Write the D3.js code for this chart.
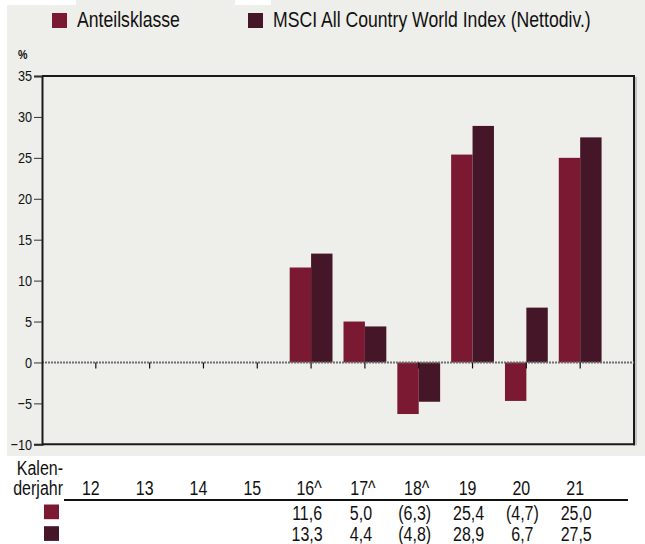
<!DOCTYPE html>
<html>
<head>
<meta charset="utf-8">
<script src="https://cdn.jsdelivr.net/npm/d3@7"></script>
<style>
  html, body { margin: 0; padding: 0; background: #ffffff; }
  svg { display: block; }
  text { font-family: 'Liberation Sans', Arial, sans-serif; fill: #111; }
</style>
</head>
<body>
<script>
// ---- data ----
const years = ["12", "13", "14", "15", "16", "17", "18", "19", "20", "21"];
const yearLabels = ["12", "13", "14", "15", "16^", "17^", "18^", "19", "20", "21"];
const seriesNames = ["Anteilsklasse", "MSCI All Country World Index (Nettodiv.)"];
const fundValues = [null, null, null, null, 11.6, 5.0, -6.3, 25.4, -4.7, 25.0];
const indexValues = [null, null, null, null, 13.3, 4.4, -4.8, 28.9, 6.7, 27.5];
const yTicks = [-10, -5, 0, 5, 10, 15, 20, 25, 30, 35];
const colors = ["#7b1832", "#441628"];

(function () {
const W = 645, H = 544;
const pL = 42, pR = 634, pT = 76, pB = 444.3;
const SX = 0.82; // horizontal condensing for a narrow typeface look

const svg = d3.select("body").append("svg").attr("width", W).attr("height", H);

// background
svg.append("rect").attr("x", 7).attr("y", 0).attr("width", W - 7).attr("height", 456).attr("fill", "#eeeeea");
svg.append("rect").attr("x", 0).attr("y", 0).attr("width", 76).attr("height", 5).attr("fill", "#fff");
svg.append("rect").attr("x", 235).attr("y", 0).attr("width", 36).attr("height", 5).attr("fill", "#fff");

const x = d3.scalePoint().domain(years).range([pL, pR]).padding(1);
const y = d3.scaleLinear().domain([-10, 35]).range([pB, pT]);
const barW = 21.4;

// plot frame (top, right, bottom)
const frame = svg.append("g");
frame.append("line").attr("x1", pL).attr("x2", pR + 1).attr("y1", pT).attr("y2", pT)
  .attr("stroke", "#1a1a1a").attr("stroke-width", 2);
frame.append("line").attr("x1", pR + 2).attr("x2", pR + 2).attr("y1", pT + 1).attr("y2", pB + 1)
  .attr("stroke", "#9a9a9a").attr("stroke-width", 1);
frame.append("line").attr("x1", pR).attr("x2", pR).attr("y1", pT - 1).attr("y2", pB + 1)
  .attr("stroke", "#1a1a1a").attr("stroke-width", 2);
frame.append("line").attr("x1", pL).attr("x2", pR + 1).attr("y1", pB).attr("y2", pB)
  .attr("stroke", "#1a1a1a").attr("stroke-width", 2);

// bars
const data = years.map((yr, i) => ({ yr, vals: [fundValues[i], indexValues[i]] }));
const g = svg.append("g");
data.forEach(d => {
  d.vals.forEach((v, k) => {
    if (v === null) return;
    const x0 = x(d.yr) - barW + k * barW;
    g.append("rect")
      .attr("x", x0)
      .attr("width", barW)
      .attr("y", y(Math.max(0, v)))
      .attr("height", Math.abs(y(v) - y(0)))
      .attr("fill", colors[k]);
  });
});

// zero line dotted
svg.append("line").attr("x1", pL).attr("x2", pR).attr("y1", y(0)).attr("y2", y(0))
  .attr("stroke", "#6e6e6e").attr("stroke-width", 2).attr("stroke-dasharray", "2,1");

// category ticks on zero line
svg.append("g").selectAll("line").data(years).join("line")
  .attr("x1", d => x(d)).attr("x2", d => x(d))
  .attr("y1", y(0)).attr("y2", y(0) + 6)
  .attr("stroke", "#111").attr("stroke-width", 1.2);

// y axis
const yAxis = d3.axisLeft(y).tickValues(yTicks).tickSize(8).tickPadding(2).tickFormat(d3.format("d"));
const ya = svg.append("g").attr("transform", `translate(${pL},0)`).call(yAxis);
ya.select(".domain").attr("stroke", "#1a1a1a").attr("stroke-width", 2);
ya.selectAll(".tick line").attr("stroke", "#333").attr("stroke-width", 1);
ya.selectAll(".tick text").attr("font-size", 15.5).attr("font-family", "'Liberation Sans', Arial, sans-serif").attr("fill", "#111");

// % label
svg.append("text").attr("x", 18).attr("y", 59).attr("font-size", 13).attr("font-weight", "bold").text("%");

// legend
const legX = [52, 248];
seriesNames.forEach((n, i) => {
  svg.append("rect").attr("x", legX[i]).attr("y", 13).attr("width", 15).attr("height", 15).attr("fill", colors[i]);
  svg.append("text").attr("x", legX[i] + 25).attr("y", 27).attr("font-size", 21.5).text(n);
});

// table
const tfs = 19.5;
svg.append("text").attr("x", 63).attr("y", 475).attr("text-anchor", "end").attr("font-size", tfs).text("Kalen-");
svg.append("text").attr("x", 63).attr("y", 495).attr("text-anchor", "end").attr("font-size", tfs).text("derjahr");
svg.append("g").selectAll("text").data(years).join("text")
  .attr("x", (d, i) => x(d) - 5 + (yearLabels[i].endsWith("^") ? 3 : 0))
  .attr("y", 495).attr("text-anchor", "middle").attr("font-size", tfs)
  .text((d, i) => yearLabels[i]);
svg.append("line").attr("x1", 64).attr("x2", 628).attr("y1", 500).attr("y2", 500)
  .attr("stroke", "#111").attr("stroke-width", 2);

const fmt = v => {
  const s = Math.abs(v).toFixed(1).replace(".", ",");
  return v < 0 ? "(" + s + ")" : s;
};
const rowY = [520, 540.5];
[fundValues, indexValues].forEach((vals, k) => {
  svg.append("rect").attr("x", 44).attr("y", 504.5 + k * 21.7).attr("width", 15).attr("height", 14.7).attr("fill", colors[k]);
  svg.append("g").selectAll("text").data(years.map((yr, i) => ({ yr, v: vals[i] })).filter(d => d.v !== null)).join("text")
    .attr("x", d => x(d.yr) - 4)
    .attr("y", rowY[k]).attr("text-anchor", "middle").attr("font-size", tfs)
    .text(d => fmt(d.v));
});

// condense all text horizontally around its anchor point
svg.selectAll("text").each(function () {
  const t = d3.select(this);
  const xv = +(t.attr("x") || 0), yv = +(t.attr("y") || 0);
  t.attr("x", 0).attr("y", 0).attr("transform", `translate(${xv},${yv}) scale(${SX},1)`);
});
})();
</script>
</body>
</html>
